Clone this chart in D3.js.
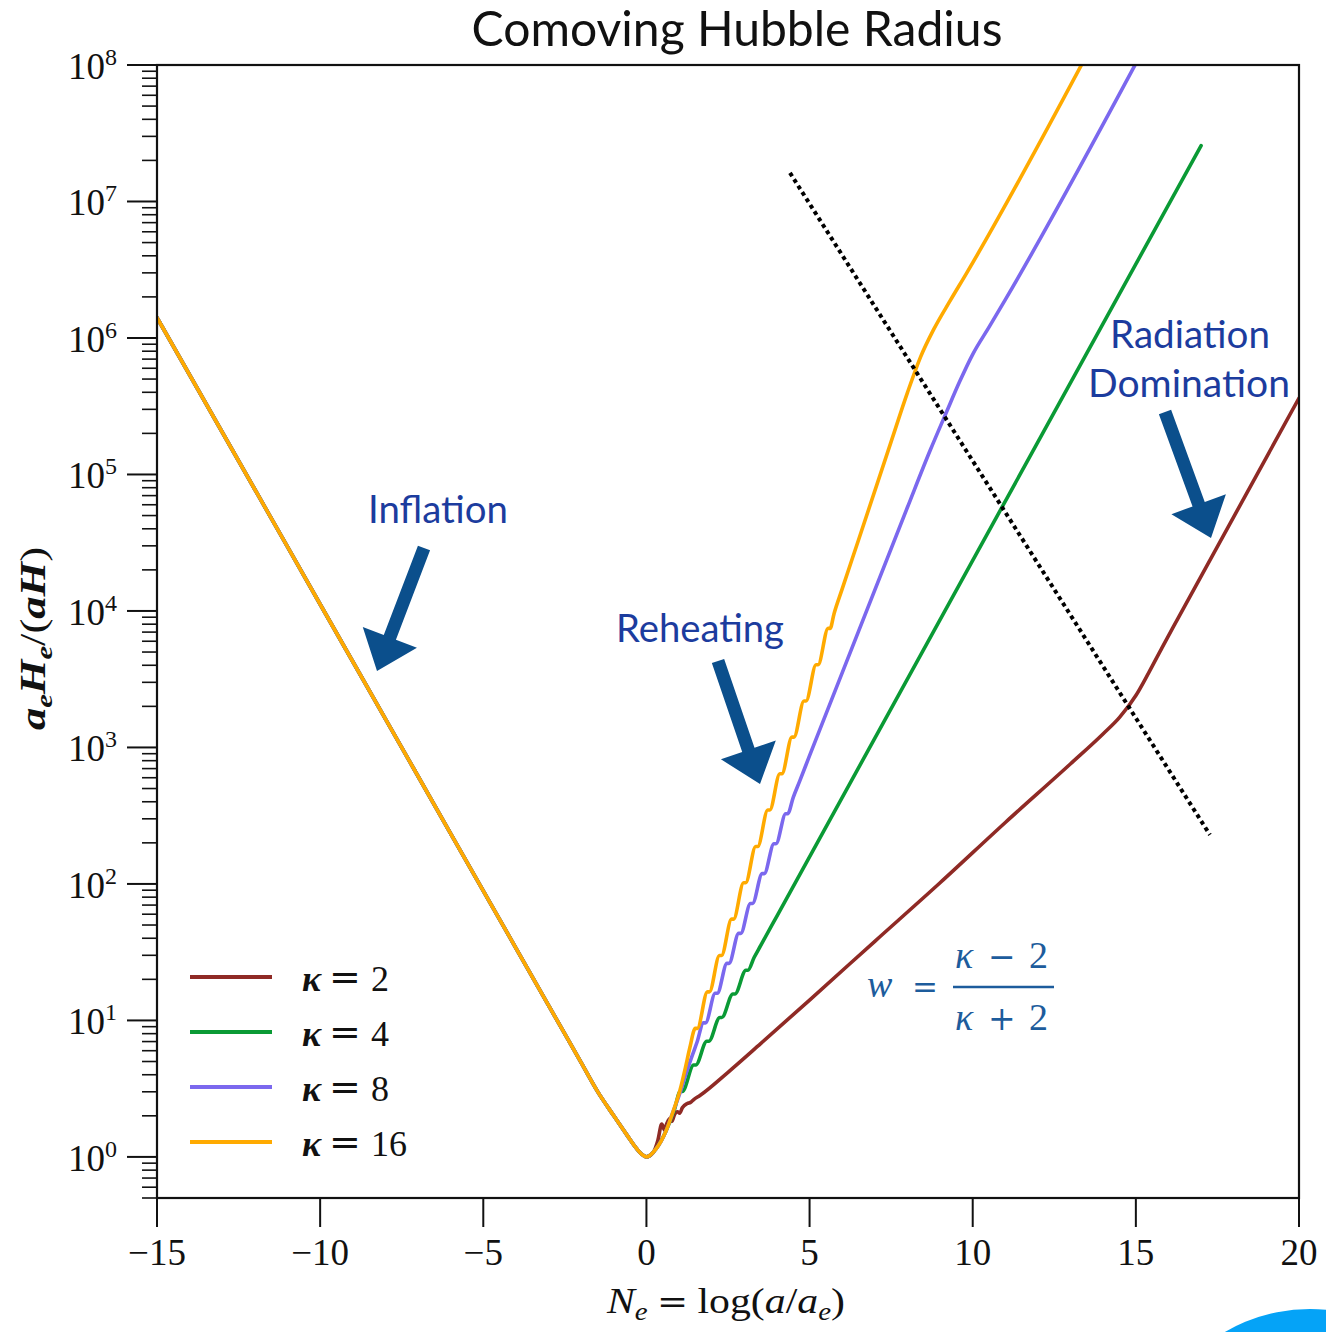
<!DOCTYPE html>
<html><head><meta charset="utf-8">
<script src="https://cdn.jsdelivr.net/npm/d3@7"></script>
<style>body{margin:0;background:#fff}svg{display:block}</style>
</head><body>
<svg id="c" width="1326" height="1332"></svg>
<script>
// ---------- data ----------
// inflation branch, common to all curves: N_e and a_e H_e/(aH)
const infN = [-15, -12, -10, -8, -6, -4, -3, -2, -1.5, -1, -0.6, -0.3, -0.15, 0];
const infV = [1.41e6, 7.76e4, 1.12e4, 1.62e3, 234, 33.9, 12.9, 4.90, 3.02, 2.00, 1.45, 1.15, 1.05, 1.0];

// kappa = 2 after the end of inflation
const k2N = [0.2, 0.35, 0.47, 0.55, 0.62, 0.72, 0.78, 0.86, 0.95, 1.02, 1.10, 1.25, 1.35, 1.45, 1.64, 2.5, 3.5, 5.0, 7.0, 9.0, 11.0, 13.0, 14.0, 14.5, 15.0, 15.4, 15.8, 16.3, 20.0];
const k2V = [1.07, 1.32, 1.74, 1.58, 1.74, 1.91, 1.82, 2.04, 2.14, 2.09, 2.29, 2.46, 2.51, 2.63, 2.82, 4.17, 6.76, 14.1, 38.0, 102, 282, 759, 1.26e3, 1.66e3, 2.40e3, 3.55e3, 5.37e3, 8.91e3, 3.63e5];

// kappa = 4
const k4N = [0.3, 0.6, 0.85, 1.04, 1.10, 1.45, 1.51, 1.85, 1.91, 2.25, 2.31, 2.65, 2.71, 3.05, 3.11, 3.3, 3.5, 4.0, 17.0];
const k4V = [1.15, 1.55, 2.19, 3.02, 3.02, 4.71, 4.71, 7.03, 7.03, 10.5, 10.5, 15.6, 15.6, 23.3, 23.3, 28.9, 35.3, 58.2, 2.57e7];

// kappa = 8
const k8N = [0.3, 0.6, 0.8, 1.03, 1.2, 1.4, 1.55, 1.75, 1.81, 2.11, 2.17, 2.47, 2.53, 2.83, 2.89, 3.19, 3.25, 3.55, 3.61, 3.91, 3.97, 4.27, 4.33, 4.5, 4.7, 5.0, 6.5, 8.0, 8.7, 9.2, 9.6, 10.0, 10.5, 11.0, 15.2];
const k8V = [1.15, 1.55, 2.09, 2.95, 3.98, 5.50, 6.92, 9.60, 9.60, 15.8, 15.8, 26.2, 26.2, 43.4, 43.4, 71.9, 71.9, 119, 119, 197, 197, 327, 327, 431, 569, 871, 7.08e3, 5.75e4, 1.51e5, 2.88e5, 4.79e5, 7.59e5, 1.20e6, 1.91e6, 1.26e8];

// kappa = 16
const k16N = [0.3, 0.6, 0.8, 1.03, 1.2, 1.33, 1.5, 1.56, 1.87, 1.93, 2.24, 2.30, 2.61, 2.67, 2.98, 3.04, 3.35, 3.41, 3.72, 3.78, 4.09, 4.15, 4.46, 4.52, 4.83, 4.89, 5.2, 5.26, 5.57, 5.63, 5.75, 6.0, 6.5, 7.5, 8.0, 8.4, 8.8, 9.3, 9.8, 13.6];
const k16V = [1.15, 1.55, 2.09, 3.09, 4.57, 6.31, 8.75, 8.75, 16.2, 16.2, 29.9, 29.9, 55.2, 55.2, 102, 102, 188, 188, 348, 348, 641, 641, 1.19e3, 1.19e3, 2.19e3, 2.19e3, 4.04e3, 4.04e3, 7.46e3, 7.46e3, 9.55e3, 1.45e4, 3.31e4, 1.74e5, 3.98e5, 7.24e5, 1.15e6, 1.86e6, 2.95e6, 1.32e8];

// dotted guide line (end points)
const guideN = [4.40, 17.27];
const guideV = [1.62e7, 229];

const kappas = ["2", "4", "8", "16"];
const seriesColors = ["#8f2a25", "#0a9a35", "#7b68ee", "#ffaa00"];

const xTicks = [-15, -10, -5, 0, 5, 10, 15, 20];
const xTickLabels = ["\u221215", "\u221210", "\u22125", "0", "5", "10", "15", "20"];
const yTicks = [1, 10, 100, 1e3, 1e4, 1e5, 1e6, 1e7, 1e8];
const yTickExp = ["0", "1", "2", "3", "4", "5", "6", "7", "8"];

// ---------- layout ----------
const L = 157, R = 1299, T = 65, B = 1198;
const svg = d3.select("#c");
const serif = "'Liberation Serif', 'DejaVu Serif', serif";
const opSerif = "'DejaVu Serif', serif";
const sans = "Lato, 'Open Sans', sans-serif";

const x = d3.scaleLinear().domain([-15, 20]).range([L, R]);
const y = d3.scaleLog().domain([0.5, 1e8]).range([B, T]);

function fit(sel, w) {
  const cur = sel.node().getComputedTextLength();
  const fs = parseFloat(sel.attr("font-size"));
  sel.attr("font-size", fs * w / cur);
}

svg.append("clipPath").attr("id", "clip").append("rect")
  .attr("x", L).attr("y", T).attr("width", R - L).attr("height", B - T);

// decorative blue disc bottom-right
svg.append("circle").attr("cx", 1310).attr("cy", 1478).attr("r", 169).attr("fill", "#05a3f7");

// lines
const line = d3.line().x(d => x(d[0])).y(d => y(d[1])).curve(d3.curveMonotoneX);
const posts = [[k2N, k2V], [k4N, k4V], [k8N, k8V], [k16N, k16V]];
const gLines = svg.append("g").attr("clip-path", "url(#clip)");
posts.forEach((p, i) => {
  const pts = infN.map((n, j) => [n, infV[j]]).concat(p[0].map((n, j) => [n, p[1][j]]));
  gLines.append("path").datum(pts).attr("d", line)
    .attr("fill", "none").attr("stroke", seriesColors[i]).attr("stroke-width", 3.6)
    .attr("stroke-linejoin", "round").attr("stroke-linecap", "round");
});

// dotted guide
gLines.append("line")
  .attr("x1", x(guideN[0])).attr("y1", y(guideV[0]))
  .attr("x2", x(guideN[1])).attr("y2", y(guideV[1]))
  .attr("stroke", "#000").attr("stroke-width", 4).attr("stroke-dasharray", "4,3.6");

// axes frame
svg.append("rect").attr("x", L).attr("y", T).attr("width", R - L).attr("height", B - T)
  .attr("fill", "none").attr("stroke", "#111").attr("stroke-width", 2.2);

// x ticks
const gx = svg.append("g");
xTicks.forEach((t, i) => {
  gx.append("line").attr("x1", x(t)).attr("x2", x(t)).attr("y1", B).attr("y2", B + 29)
    .attr("stroke", "#111").attr("stroke-width", 2);
  gx.append("text").attr("x", x(t)).attr("y", 1265).attr("text-anchor", "middle")
    .attr("font-family", serif).attr("font-size", 37).attr("fill", "#111").text(xTickLabels[i]);
});

// y ticks
const gy = svg.append("g");
const minor = [];
for (let e = -1; e <= 7; e++) for (let m = 2; m <= 9; m++) {
  const v = m * Math.pow(10, e);
  if (v >= 0.5 && v <= 1e8) minor.push(v);
}
minor.forEach(v => {
  gy.append("line").attr("x1", L - 15).attr("x2", L).attr("y1", y(v)).attr("y2", y(v))
    .attr("stroke", "#111").attr("stroke-width", 1.6);
});
yTicks.forEach((t, i) => {
  gy.append("line").attr("x1", L - 30).attr("x2", L).attr("y1", y(t)).attr("y2", y(t))
    .attr("stroke", "#111").attr("stroke-width", 2);
  const tx = gy.append("text").attr("x", 117).attr("y", y(t) + 14).attr("text-anchor", "end")
    .attr("font-family", serif).attr("font-size", 37).attr("fill", "#111");
  tx.append("tspan").text("10");
  tx.append("tspan").attr("dy", -14).attr("font-size", 24).text(yTickExp[i]);
});

// axis labels
const xl = svg.append("text").attr("x", 607).attr("y", 1313)
  .attr("font-family", serif).attr("font-size", 36).attr("fill", "#111");
xl.append("tspan").attr("font-style", "italic").text("N");
xl.append("tspan").attr("font-style", "italic").attr("font-size", 25).attr("dy", 7).text("e");
xl.append("tspan").attr("dy", -7).attr("dx", 8).attr("font-family", opSerif).attr("font-size", 32).text("=");
xl.append("tspan").attr("dx", 8).text("log(");
xl.append("tspan").attr("font-style", "italic").text("a");
xl.append("tspan").text("/");
xl.append("tspan").attr("font-style", "italic").text("a");
xl.append("tspan").attr("font-style", "italic").attr("font-size", 25).attr("dy", 7).text("e");
xl.append("tspan").attr("dy", -7).text(")");
xl.attr("textLength", 238).attr("lengthAdjust", "spacingAndGlyphs");

const yl = svg.append("text").attr("transform", "translate(45,547) rotate(-90)").attr("text-anchor", "end")
  .attr("font-family", serif).attr("font-size", 35).attr("fill", "#111").attr("font-style", "italic")
  .attr("font-weight", "bold");
yl.append("tspan").text("a");
yl.append("tspan").attr("font-size", 24).attr("dy", 7).text("e");
yl.append("tspan").attr("dy", -7).text("H");
yl.append("tspan").attr("font-size", 24).attr("dy", 7).text("e");
yl.append("tspan").attr("dy", -7).attr("font-style", "normal").attr("font-weight", "normal").text("/(");
yl.append("tspan").text("aH");
yl.append("tspan").attr("font-style", "normal").attr("font-weight", "normal").text(")");
yl.attr("textLength", 183).attr("lengthAdjust", "spacingAndGlyphs");

// title
const title = svg.append("text").attr("x", 737).attr("y", 46).attr("text-anchor", "middle")
  .attr("font-family", sans).attr("font-size", 44).attr("fill", "#111").text("Comoving Hubble Radius");
fit(title, 531);

// legend
kappas.forEach((k, i) => {
  const ly = 977 + i * 55;
  svg.append("line").attr("x1", 190).attr("x2", 272).attr("y1", ly).attr("y2", ly)
    .attr("stroke", seriesColors[i]).attr("stroke-width", 4);
  svg.append("text").attr("x", 302).attr("y", ly + 14)
    .attr("font-family", serif).attr("font-size", 36).attr("fill", "#111")
    .attr("font-style", "italic").attr("font-weight", "bold").text("\u03ba");
  svg.append("text").attr("x", 329).attr("y", ly + 13)
    .attr("font-family", opSerif).attr("font-size", 38).attr("fill", "#111").text("=");
  svg.append("text").attr("x", 371).attr("y", ly + 14)
    .attr("font-family", serif).attr("font-size", 36).attr("fill", "#111").text(k);
});

// annotations
const annColor = "#1c3c9e", arrowColor = "#0b4f8c";
function label(txt, cx, by, w) {
  const t = svg.append("text").attr("x", cx).attr("y", by).attr("text-anchor", "middle")
    .attr("font-family", sans).attr("font-size", 38).attr("fill", annColor).text(txt);
  fit(t, w);
}
label("Inflation", 438, 523, 140);
label("Reheating", 700, 642, 168);
label("Radiation", 1190, 348, 160);
label("Domination", 1189, 397, 202);

function arrow(x0, y0, x1, y1) {
  const dx = x1 - x0, dy = y1 - y0, len = Math.hypot(dx, dy);
  const ux = dx / len, uy = dy / len, px = -uy, py = ux;
  const sw = 6.5, hw = 29, hl = 36;
  const bx = x1 - ux * hl, by = y1 - uy * hl;
  const pts = [
    [x0 + px * sw, y0 + py * sw], [bx + px * sw, by + py * sw], [bx + px * hw, by + py * hw],
    [x1, y1], [bx - px * hw, by - py * hw], [bx - px * sw, by - py * sw], [x0 - px * sw, y0 - py * sw]
  ];
  svg.append("polygon").attr("points", pts.map(p => p.join(",")).join(" ")).attr("fill", arrowColor);
}
arrow(424, 548, 377, 671);
arrow(718, 661, 760, 784);
arrow(1165, 412, 1211, 538);

// formula w = (kappa-2)/(kappa+2)
const fColor = "#1d5c9c";
function ftext(txt, xx, yy, italic, fam, fs) {
  const t = svg.append("text").attr("x", xx).attr("y", yy).text(txt)
    .attr("font-family", fam || serif).attr("font-size", fs || 38).attr("fill", fColor);
  if (italic) t.attr("font-style", "italic");
  return t;
}
ftext("w", 867, 997, true);
ftext("=", 912, 998, false, opSerif, 31);
svg.append("line").attr("x1", 953).attr("x2", 1054).attr("y1", 987).attr("y2", 987)
  .attr("stroke", fColor).attr("stroke-width", 2.5);
ftext("\u03ba", 955, 968, true);
ftext("\u2212", 988, 968, false, opSerif, 33);
ftext("2", 1029, 968, false);
ftext("\u03ba", 955, 1030, true);
ftext("+", 988, 1030, false, opSerif, 33);
ftext("2", 1029, 1030, false);
</script>
</body></html>
